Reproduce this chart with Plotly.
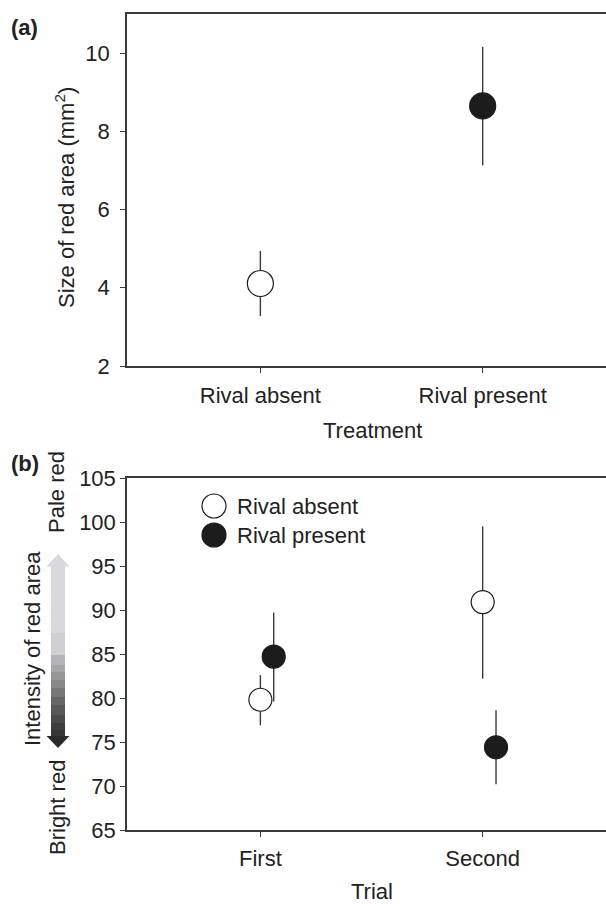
import plotly.graph_objects as go

# ---------------- data ----------------
treat_labels = ["Rival absent", "Rival present"]
treat_mean = [4.11, 8.65]
treat_hi = [4.94, 10.16]
treat_lo = [3.28, 7.13]

trial_labels = ["First", "Second"]
absent_mean = [79.8, 90.9]
absent_hi = [82.6, 99.5]
absent_lo = [76.9, 82.2]
present_mean = [84.7, 74.4]
present_hi = [89.7, 78.6]
present_lo = [79.6, 70.2]

ya_ticks = [2, 4, 6, 8, 10]
yb_ticks = [65, 70, 75, 80, 85, 90, 95, 100, 105]

# ---------------- layout helpers ----------------
W, H = 606, 904
L, R, T, B = 127, 0, 14, 74
PW = W - L - R
PH = H - T - B


def px(x):
    return (x - L) / PW


def py(y):
    return (H - B - y) / PH


FONT = "Liberation Sans, Arial, Helvetica, sans-serif"
FS = 22
LINE = "#3a3a3a"
BLACK = "#1c1c1c"
DODGE = 0.06

fig = go.Figure()


def err(mean, hi, lo):
    return dict(type="data", symmetric=False,
                array=[h - m for h, m in zip(hi, mean)],
                arrayminus=[m - l for m, l in zip(mean, lo)],
                width=0, thickness=1.4, color=LINE)


# panel (a)
fig.add_trace(go.Scatter(
    x=list(range(len(treat_labels))), y=treat_mean, mode="markers",
    error_y=err(treat_mean, treat_hi, treat_lo),
    marker=dict(size=26, color=["white", BLACK], line=dict(color=BLACK, width=1.2)),
    xaxis="x", yaxis="y", showlegend=False, name="Treatment"))

# panel (b)
fig.add_trace(go.Scatter(
    x=list(range(len(trial_labels))), y=absent_mean, mode="markers",
    error_y=err(absent_mean, absent_hi, absent_lo),
    marker=dict(size=23, color="white", line=dict(color=BLACK, width=1.2)),
    xaxis="x2", yaxis="y2", showlegend=False, name="Rival absent"))
fig.add_trace(go.Scatter(
    x=[i + DODGE for i in range(len(trial_labels))], y=present_mean, mode="markers",
    error_y=err(present_mean, present_hi, present_lo),
    marker=dict(size=23, color=BLACK, line=dict(color=BLACK, width=1.2)),
    xaxis="x2", yaxis="y2", showlegend=False, name="Rival present"))

axis_common = dict(showline=True, linecolor=LINE, linewidth=1.5, ticks="outside",
                   ticklen=5, tickwidth=1.2, tickcolor=LINE, showgrid=False,
                   zeroline=False, tickfont=dict(family=FONT, size=FS, color="#222"))

xr = [-0.6, -0.6 + (W - L) / 222.3]

fig.update_layout(
    width=W, height=H,
    margin=dict(l=L, r=R, t=T, b=B),
    paper_bgcolor="white", plot_bgcolor="white",
    font=dict(family=FONT, size=FS, color="#222"),
    xaxis=dict(domain=[0, 1], anchor="y", range=xr, tickvals=[0, 1],
               ticktext=treat_labels, mirror=True, ticklabelstandoff=4, **axis_common),
    yaxis=dict(domain=[py(366), 1], anchor="x", range=[2, 11], tickvals=ya_ticks,
               ticklabelstandoff=6, **axis_common),
    xaxis2=dict(domain=[0, 1], anchor="y2", range=xr, tickvals=[0, 1],
                ticktext=trial_labels, mirror=True, ticklabelstandoff=3, **axis_common),
    yaxis2=dict(domain=[0, py(478)], anchor="x2", range=[65, 105], tickvals=yb_ticks,
                ticklabelstandoff=0, **axis_common),
)

ann = []


def text(x, y, s, angle=0, bold=False, xanchor="center"):
    ann.append(dict(x=px(x), y=py(y), xref="paper", yref="paper",
                    text=("<b>" + s + "</b>") if bold else s,
                    showarrow=False, textangle=angle, xanchor=xanchor, yanchor="middle",
                    font=dict(family=FONT, size=FS, color="#222")))


text(24, 27, "(a)", bold=True)
text(25, 463, "(b)", bold=True)
text(65, 198, "Size of red area (mm<sup>2</sup>)", angle=-90)
text(372, 431, "Treatment")
text(372, 891, "Trial")
text(57, 492, "Pale red", angle=-90)
text(57, 808, "Bright red", angle=-90)
text(32, 649, "Intensity of red area", angle=-90)

# manual legend
shapes = []
legend_items = [("Rival absent", "white", 506), ("Rival present", BLACK, 535)]
for name, col, yy in legend_items:
    shapes.append(dict(type="circle", xref="paper", yref="paper",
                       xsizemode="pixel", ysizemode="pixel",
                       xanchor=px(214), yanchor=py(yy),
                       x0=-12, x1=12, y0=-12, y1=12,
                       fillcolor=col, line=dict(color=BLACK, width=1.2)))
    ann.append(dict(x=px(235), y=py(yy), xref="paper", yref="paper", text=name,
                    showarrow=False, xanchor="left", yanchor="middle",
                    font=dict(family=FONT, size=FS, color="#222")))

# gradient arrow (intensity scale)
steps = [(566, 633, "#d9d9db"), (633, 655, "#cfcfd1"), (655, 665, "#b4b4b6"),
         (665, 672, "#a5a5a7"), (672, 680, "#969696"), (680, 688, "#878787"),
         (688, 697, "#777777"), (697, 705, "#666666"), (705, 715, "#595959"),
         (715, 723, "#4a4a4a"), (723, 730, "#3e3e3e"), (730, 737, "#353535")]
for y0, y1, col in steps:
    shapes.append(dict(type="rect", xref="paper", yref="paper",
                       x0=px(51), x1=px(65), y0=py(y1), y1=py(y0),
                       fillcolor=col, line=dict(width=0)))
shapes.append(dict(type="path", xref="paper", yref="paper",
                   path=f"M {px(46.5)},{py(566.5)} L {px(58)},{py(554)} L {px(69.5)},{py(566.5)} Z",
                   fillcolor="#d9d9db", line=dict(width=0)))
shapes.append(dict(type="path", xref="paper", yref="paper",
                   path=f"M {px(46.5)},{py(736)} L {px(58)},{py(748)} L {px(69.5)},{py(736)} Z",
                   fillcolor="#2b2b2b", line=dict(width=0)))

fig.update_layout(annotations=ann, shapes=shapes)

fig.write_html("out.html")
